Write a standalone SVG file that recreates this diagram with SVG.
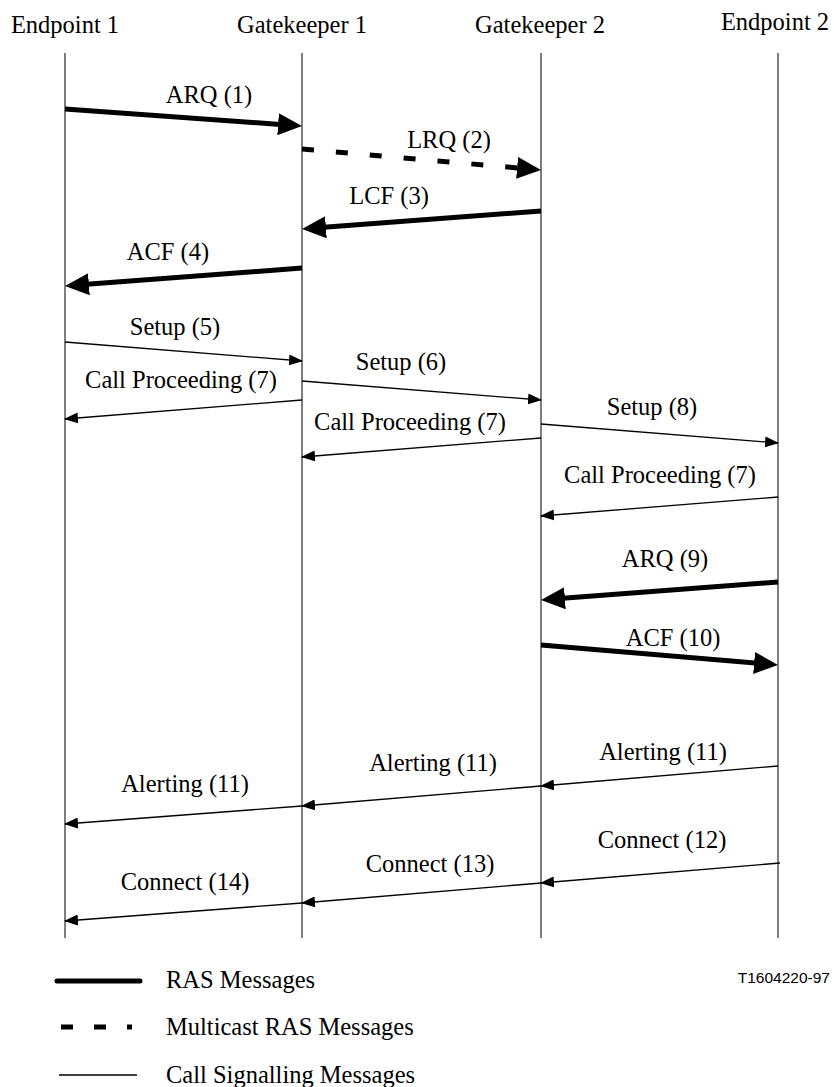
<svg xmlns="http://www.w3.org/2000/svg" width="834" height="1087" viewBox="0 0 834 1087">
<style>
text { font-family: "Liberation Serif", "Times New Roman", serif; font-size: 24.5px; fill: #000; }
.c { text-anchor: middle; }
.life { stroke: #3a3a3a; stroke-width: 1.3; fill: none; }
.thin { stroke: #000; stroke-width: 1.3; fill: none; marker-end: url(#ah); }
.thick { stroke: #000; stroke-width: 5; fill: none; marker-end: url(#AH); }
.dash { stroke: #000; stroke-width: 5; fill: none; stroke-dasharray: 12 22; marker-end: url(#AH); }
.code { font-family: "Liberation Sans", Arial, sans-serif; font-size: 15.5px; text-anchor: end; }
</style>
<defs>
<marker id="AH" markerUnits="userSpaceOnUse" markerWidth="24" markerHeight="22" refX="12" refY="11" orient="auto" viewBox="0 0 24 22">
<path d="M0,0 L24,11 L0,22 z" fill="#000"/>
</marker>
<marker id="ah" markerUnits="userSpaceOnUse" markerWidth="14" markerHeight="11" refX="13" refY="5.5" orient="auto" viewBox="0 0 14 11">
<path d="M0,0 L14,5.5 L0,11 z" fill="#000"/>
</marker>
</defs>
<rect width="834" height="1087" fill="#fff"/>

<g id="endpoint1">
<text class="c" x="65" y="33">Endpoint 1</text>
<line class="life" x1="65" y1="53" x2="65" y2="938"/>
</g>
<g id="gatekeeper1">
<text class="c" x="302" y="33">Gatekeeper 1</text>
<line class="life" x1="302" y1="53" x2="302" y2="938"/>
</g>
<g id="gatekeeper2">
<text class="c" x="540" y="33">Gatekeeper 2</text>
<line class="life" x1="541" y1="53" x2="541" y2="938"/>
</g>
<g id="endpoint2">
<text class="c" x="775" y="30">Endpoint 2</text>
<line class="life" x1="778" y1="53" x2="778" y2="938"/>
</g>

<g id="connectors">
<line class="thick" x1="65" y1="109" x2="290.03" y2="125.15"/>
<line class="dash" x1="302" y1="149" x2="529.05" y2="168.95"/>
<line class="thick" x1="541" y1="211" x2="313.97" y2="228.1"/>
<line class="thick" x1="302" y1="268" x2="76.97" y2="285.09"/>
<line class="thin" x1="65" y1="342" x2="302" y2="361"/>
<line class="thin" x1="302" y1="381" x2="541" y2="400"/>
<line class="thin" x1="302" y1="400" x2="65" y2="419"/>
<line class="thin" x1="541" y1="438" x2="302" y2="457"/>
<line class="thin" x1="541" y1="424" x2="778" y2="443"/>
<line class="thin" x1="778" y1="497" x2="541" y2="516"/>
<line class="thick" x1="778" y1="582" x2="552.97" y2="599.09"/>
<line class="thick" x1="541" y1="645" x2="766.04" y2="663.99"/>
<line class="thin" x1="778" y1="766" x2="541" y2="786"/>
<line class="thin" x1="541" y1="786" x2="302" y2="806"/>
<line class="thin" x1="302" y1="806" x2="65" y2="824"/>
<line class="thin" x1="780" y1="863" x2="541" y2="883"/>
<line class="thin" x1="541" y1="883" x2="302" y2="903"/>
<line class="thin" x1="302" y1="903" x2="65" y2="921"/>
</g>

<g id="labels">
<text class="c" x="209" y="103">ARQ (1)</text>
<text class="c" x="449" y="148">LRQ (2)</text>
<text class="c" x="389" y="204">LCF (3)</text>
<text class="c" x="168" y="260">ACF (4)</text>
<text class="c" x="175" y="335">Setup (5)</text>
<text class="c" x="401" y="370">Setup (6)</text>
<text class="c" x="181" y="388">Call Proceeding (7)</text>
<text class="c" x="410" y="430">Call Proceeding (7)</text>
<text class="c" x="652" y="415">Setup (8)</text>
<text class="c" x="660" y="483">Call Proceeding (7)</text>
<text class="c" x="665" y="567">ARQ (9)</text>
<text class="c" x="673" y="646">ACF (10)</text>
<text class="c" x="663" y="760">Alerting (11)</text>
<text class="c" x="433" y="771">Alerting (11)</text>
<text class="c" x="185" y="792">Alerting (11)</text>
<text class="c" x="662" y="848">Connect (12)</text>
<text class="c" x="430" y="872">Connect (13)</text>
<text class="c" x="185" y="890">Connect (14)</text>
</g>

<g id="legend">
<line x1="57" y1="981" x2="140" y2="981" stroke="#000" stroke-width="5" stroke-linecap="round"/>
<text x="166" y="988">RAS Messages</text>
<line x1="61" y1="1027" x2="132" y2="1027" stroke="#000" stroke-width="5" stroke-dasharray="12 21"/>
<text x="166" y="1035">Multicast RAS Messages</text>
<line x1="59" y1="1075" x2="137" y2="1075" stroke="#000" stroke-width="1.3"/>
<text x="166" y="1083">Call Signalling Messages</text>
<text class="code" x="830" y="983">T1604220-97</text>
</g>
</svg>
